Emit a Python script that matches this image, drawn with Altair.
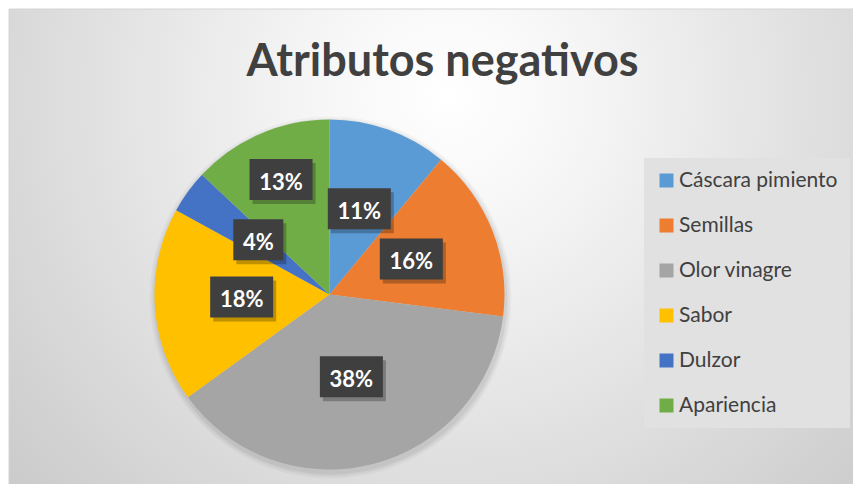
import altair as alt
import pandas as pd

# ---- data ----
categories = ["Cáscara pimiento", "Semillas", "Olor vinagre", "Sabor", "Dulzor", "Apariencia"]
shares = [11, 16, 38, 18, 4, 13]
labels = ["11%", "16%", "38%", "18%", "4%", "13%"]
colors = ["#5B9BD5", "#ED7D31", "#A5A5A5", "#FFC000", "#4472C4", "#70AD47"]
title_text = "Atributos negativos"

df = pd.DataFrame({
    "cat": categories,
    "share": shares,
    "label": labels,
    "idx": list(range(len(categories))),
})

W, H = 845, 476
CX, CY = 320.5, 285.5
R = 175
BOX_H = 41

theta_scale = alt.Scale(domain=[0, 100])

base = (
    alt.Chart(df)
    .transform_stack(stack="share", as_=["v1", "v2"], groupby=[], sort=[alt.SortField("idx")])
    .transform_calculate(
        mid="(datum.v1 + datum.v2) / 2",
        lr="datum.cat === 'Apariencia' ? 122 : 88",
    )
    .transform_calculate(
        bx=f"{CX} + datum.lr * sin(2 * PI * datum.mid / 100)",
        by=f"{CY} - datum.lr * cos(2 * PI * datum.mid / 100) - 3",
    )
    .transform_calculate(sbx="datum.bx + 3", sby="datum.by + 4")
)

# background with radial gradient
bg = alt.Chart(alt.Data(values=[{"a": 1}])).mark_rect(
    fill={
        "gradient": "radial",
        "x1": 0.52, "y1": 0.32, "r1": 0,
        "x2": 0.52, "y2": 0.32, "r2": 0.78,
        "stops": [
            {"offset": 0, "color": "#ffffff"},
            {"offset": 0.2, "color": "#f6f6f6"},
            {"offset": 1, "color": "#c4c4c4"},
        ],
    },
    stroke="#d4d4d4",
    strokeWidth=1,
).encode(x=alt.value(0), x2=alt.value(W), y=alt.value(0), y2=alt.value(H))

# soft shadow under the pie
shadows = []
for r, op in [(181, 0.03), (179, 0.04), (177, 0.05)]:
    shadows.append(
        alt.Chart(alt.Data(values=[{"a": 1}]))
        .mark_arc(theta=0, theta2=6.2832, outerRadius=r, innerRadius=0, color="black", opacity=op)
        .encode(x=alt.value(CX + 1), y=alt.value(CY + 3))
    )

arcs = base.mark_arc(outerRadius=R, innerRadius=0).encode(
    theta=alt.Theta("v1:Q", scale=theta_scale),
    theta2="v2:Q",
    color=alt.Color(
        "cat:N",
        scale=alt.Scale(domain=categories, range=colors),
        sort=categories,
        legend=alt.Legend(
            title=None,
            orient="none",
            legendX=635,
            legendY=149,
            padding=12,
            fillColor="#e1e1e1",
            symbolType="square",
            symbolSize=196,
            symbolStrokeWidth=0,
            symbolOpacity=1,
            labelFont="Lato",
            labelFontSize=21,
            labelColor="#404040",
            labelOffset=2,
            rowPadding=23,
            labelLimit=300,
        ),
    ),
    x=alt.value(CX),
    y=alt.value(CY),
)


def box_layer(expr, w, xf, yf, color, opacity):
    k = BOX_H / w
    shape = f"M-1,-{k:.4f}H1V{k:.4f}H-1Z"
    return (
        base.transform_filter(expr)
        .mark_point(shape=shape, size=w * w, filled=True, color=color, opacity=opacity, strokeWidth=0)
        .encode(x=alt.X(f"{xf}:Q", scale=None), y=alt.Y(f"{yf}:Q", scale=None))
    )


long_lab = "length(datum.label) > 2"
short_lab = "length(datum.label) <= 2"

box_shadow3 = box_layer(long_lab, 63, "sbx", "sby", "black", 0.25)
box_shadow2 = box_layer(short_lab, 50, "sbx", "sby", "black", 0.25)
box3 = box_layer(long_lab, 63, "bx", "by", "#3f3f3f", 1)
box2 = box_layer(short_lab, 50, "bx", "by", "#3f3f3f", 1)

texts = base.mark_text(
    font="Lato", fontSize=22, fontWeight="bold", color="white", align="center", baseline="middle"
).encode(
    text="label:N",
    theta=alt.Theta("mid:Q", scale=theta_scale, stack=None),
    radius=alt.Radius("lr:Q", scale=None),
    x=alt.value(CX),
    y=alt.value(CY),
)

chart = (
    alt.layer(bg, *shadows, arcs, box_shadow3, box_shadow2, box3, box2, texts)
    .properties(
        width=W,
        height=H,
        autosize=alt.AutoSizeParams(type="fit", contains="padding"),
        padding=0,
        title=alt.TitleParams(
            text=title_text,
            font="Lato",
            fontSize=45,
            fontWeight="bold",
            color="#404040",
            anchor="middle",
            frame="group",
            offset=-76,
            dx=12,
        ),
    )
    .configure_view(strokeWidth=0)
)

chart.save("out.html", embed_options={"renderer": "svg", "actions": False})
